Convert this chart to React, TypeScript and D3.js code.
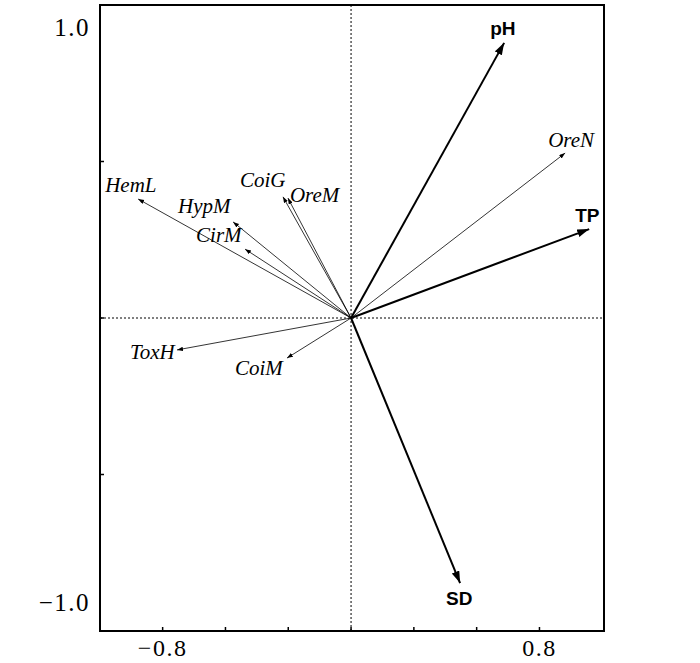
import React from "react";
import * as d3 from "d3";

const speciesNames = ["HemL", "HypM", "CirM", "CoiG", "OreM", "ToxH", "CoiM", "OreN"];
const speciesX = [-0.904, -0.501, -0.45, -0.289, -0.268, -0.739, -0.272, 0.909];
const speciesY = [0.38, 0.307, 0.22, 0.387, 0.383, -0.102, -0.128, 0.527];

const envNames = ["pH", "TP", "SD"];
const envX = [0.65, 1.011, 0.463];
const envY = [0.879, 0.284, -0.847];

const xTicks = [-0.8, -0.5333, -0.2667, 0, 0.2667, 0.5333, 0.8];
const yTicks = [-0.5, 0, 0.5];
const xTickLabels = [
  { v: -0.8, t: "\u22120.8" },
  { v: 0.8, t: "0.8" },
];
const yTickLabels = [
  { v: 1.0, t: "1.0" },
  { v: -1.0, t: "\u22121.0" },
];

// label placement offsets (pixels, relative to arrow tip)
const labelOffsets: Record<string, [number, number]> = {
  HemL: [-33, -7],
  HypM: [-55, -9],
  CirM: [-49, -7],
  CoiG: [-43, -10],
  OreM: [2, 4],
  ToxH: [-47, 9],
  CoiM: [-52, 17],
  OreN: [-17, -6],
  pH: [-14, -8],
  TP: [-14, -7],
  SD: [-14, 22],
};

export default function App() {
  const W = 700;
  const H = 663;
  const left = 100, right = 604, top = 5, bottom = 631;
  const x = d3.scaleLinear().domain([-1.066, 1.074]).range([left, right]);
  const y = d3.scaleLinear().domain([-1, 1]).range([bottom, top]);
  const x0 = x(0), y0 = y(0);

  const species = speciesNames.map((n, i) => ({ n, x: speciesX[i], y: speciesY[i] }));
  const env = envNames.map((n, i) => ({ n, x: envX[i], y: envY[i] }));

  return (
    <svg width={W} height={H} style={{ position: "absolute", left: 0, top: 0, background: "#fff" }}>
      <defs>
        <marker id="headEnv" markerUnits="userSpaceOnUse" markerWidth={14} markerHeight={10}
          refX={12} refY={4} orient="auto" viewBox="0 0 14 10">
          <path d="M0,0 L12,4 L0,8 Z" fill="#000" />
        </marker>
        <marker id="headSp" markerUnits="userSpaceOnUse" markerWidth={8} markerHeight={6}
          refX={6} refY={2.2} orient="auto" viewBox="0 0 8 6">
          <path d="M0,0 L6,2.2 L0,4.4 Z" fill="#000" />
        </marker>
      </defs>

      {/* dotted zero lines */}
      <line x1={x0} x2={x0} y1={top} y2={bottom} stroke="#000" strokeWidth={1} strokeDasharray="2,2" />
      <line x1={left} x2={right} y1={y0} y2={y0} stroke="#000" strokeWidth={1} strokeDasharray="2,2" />

      {/* frame */}
      <rect x={left} y={top} width={right - left} height={bottom - top} fill="none" stroke="#000" strokeWidth={2} />

      {/* ticks */}
      {xTicks.map((t, i) => (
        <line key={"xt" + i} x1={x(t)} x2={x(t)} y1={bottom} y2={bottom - 4} stroke="#000" strokeWidth={1.5} />
      ))}
      {yTicks.map((t, i) => (
        <line key={"yt" + i} x1={left} x2={left + 4} y1={y(t)} y2={y(t)} stroke="#000" strokeWidth={1.5} />
      ))}

      {/* tick labels */}
      {xTickLabels.map((d, i) => (
        <text key={"xl" + i} x={x(d.v)} y={656} textAnchor="middle"
          fontFamily="'Liberation Serif', 'DejaVu Serif', serif" fontSize={24} letterSpacing={1.5} fill="#000">
          {d.t}
        </text>
      ))}
      {yTickLabels.map((d, i) => (
        <text key={"yl" + i} x={90} y={d.v > 0 ? 36 : 611} textAnchor="end"
          fontFamily="'Liberation Serif', 'DejaVu Serif', serif" fontSize={25} letterSpacing={1.5} fill="#000">
          {d.t}
        </text>
      ))}

      {/* species arrows */}
      {species.map((d) => (
        <line key={"sa" + d.n} x1={x0} y1={y0} x2={x(d.x)} y2={y(d.y)} stroke="#000" strokeWidth={0.8}
          markerEnd="url(#headSp)" />
      ))}
      {/* environmental arrows */}
      {env.map((d) => (
        <line key={"ea" + d.n} x1={x0} y1={y0} x2={x(d.x)} y2={y(d.y)} stroke="#000" strokeWidth={2}
          markerEnd="url(#headEnv)" />
      ))}

      {/* species labels */}
      {species.map((d) => (
        <text key={"sl" + d.n} x={x(d.x) + labelOffsets[d.n][0]} y={y(d.y) + labelOffsets[d.n][1]}
          fontFamily="'Liberation Serif', 'DejaVu Serif', serif" fontStyle="italic" fontSize={21} fill="#000">
          {d.n}
        </text>
      ))}
      {/* env labels */}
      {env.map((d) => (
        <text key={"el" + d.n} x={x(d.x) + labelOffsets[d.n][0]} y={y(d.y) + labelOffsets[d.n][1]}
          fontFamily="'Liberation Sans', Arial, sans-serif" fontWeight="bold" fontSize={19} fill="#000">
          {d.n}
        </text>
      ))}
    </svg>
  );
}
